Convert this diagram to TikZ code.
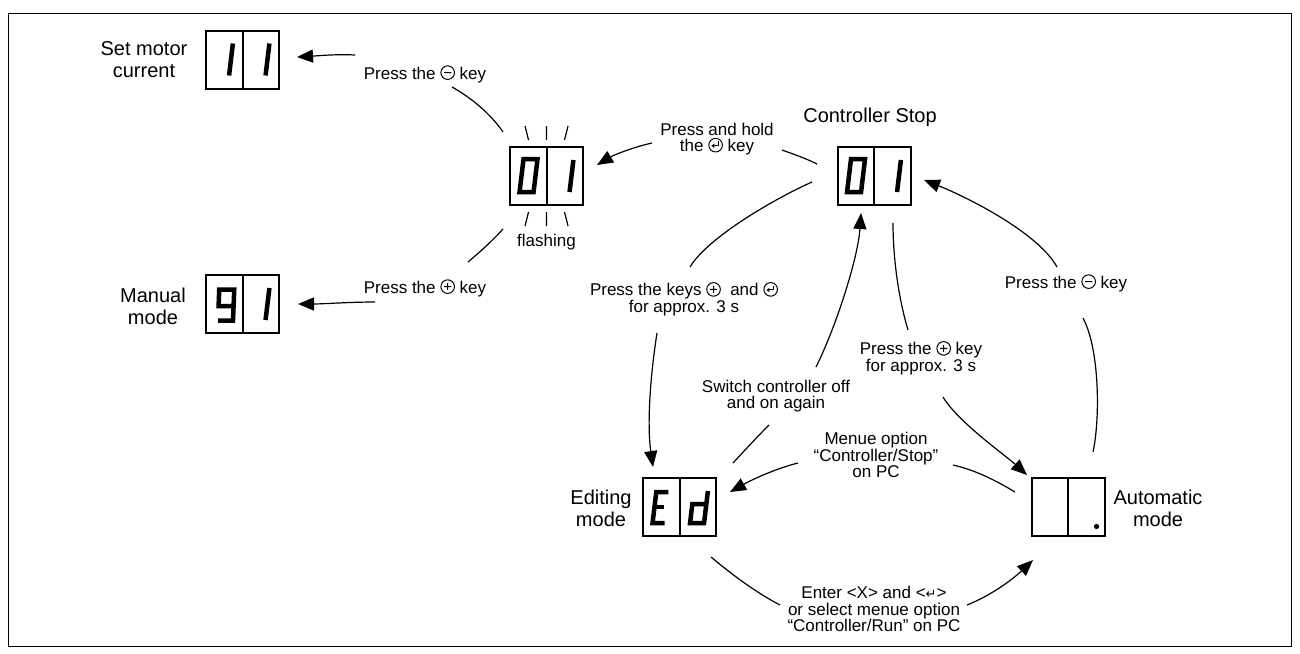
\documentclass[tikz,border=0pt]{standalone}
\usepackage{fontspec}
\setmainfont{Liberation Sans}
\newfontfamily\djv{DejaVu Sans}
\usetikzlibrary{arrows.meta}
\newsavebox\kpbox
\newsavebox\kmbox
\newsavebox\kebox
\newcommand\kp{\usebox\kpbox}
\newcommand\km{\usebox\kmbox}
\newcommand\ke{\usebox\kebox}
\newcommand\kcirc{\pgfsetlinewidth{1pt}\pgfpathcircle{\pgfpointorigin}{6.8pt}}
\newcommand\kline[4]{\pgfpathmoveto{\pgfpoint{#1pt}{#2pt}}\pgfpathlineto{\pgfpoint{#3pt}{#4pt}}}
\newcommand\dcell[3][0.12]{\begin{scope}[shift={(#2)},x=1pt,y=1pt,xslant=#1]#3\end{scope}}
\newcommand\dgone{\draw[seg] (21.5,13)--(21.5,45);}
\newcommand\dgzero{\draw[seg] (8,13)--(22,13)--(22,46)--(8,46)--cycle;}
\newcommand\dgnine{\draw[seg] (26.5,27)--(11.5,27)--(11.5,43.5)--(26.5,43.5)--(26.5,12.5)--(11.5,12.5);}
\newcommand\dgE{\draw[seg] (20,44)--(8,44)--(8,13)--(20,13); \draw[seg] (8,29)--(18,29);}
\newcommand\dgd{\draw[seg] (23,45)--(23,13)--(9,13)--(9,32)--(23,32);}
\begin{document}
\sbox\kpbox{\raisebox{-0.8pt}{\begin{pgfpicture}\kcirc\kline{-3.6}{0}{3.6}{0}\kline{0}{-3.6}{0}{3.6}\pgfusepath{stroke}\end{pgfpicture}}}%
\sbox\kmbox{\raisebox{-0.8pt}{\begin{pgfpicture}\kcirc\kline{-3.6}{0}{3.6}{0}\pgfusepath{stroke}\end{pgfpicture}}}%
\sbox\kebox{\raisebox{-0.8pt}{\begin{pgfpicture}\kcirc\pgfusepath{stroke}\pgfpathmoveto{\pgfpoint{3pt}{3.8pt}}\pgfpathlineto{\pgfpoint{3pt}{-0.6pt}}\pgfpathlineto{\pgfpoint{-1.5pt}{-0.6pt}}\pgfusepath{stroke}\pgfpathmoveto{\pgfpoint{-4.2pt}{-0.6pt}}\pgfpathlineto{\pgfpoint{-1.2pt}{1.7pt}}\pgfpathlineto{\pgfpoint{-1.2pt}{-2.9pt}}\pgfpathclose\pgfusepath{fill}\end{pgfpicture}}}%
\begin{tikzpicture}[x=1pt,y=-1pt,
  disp/.style={draw, line width=2pt, minimum width=73pt, minimum height=58pt, inner sep=0pt, outer sep=0pt},
  seg/.style={line width=4.5pt, line join=miter},
  conn/.style={line width=1.2pt},
  arr/.style={conn, -{Triangle[length=16pt,width=13pt]}},
  tick/.style={line width=1.2pt},
  big/.style={font=\fontsize{20}{22}\selectfont, align=center, inner sep=0pt},
  small/.style={font=\fontsize{17}{16.5}\selectfont, align=center, inner sep=0pt}]
\useasboundingbox (0,0) rectangle (1300,653);
\fill[white] (0,0) rectangle (1300,653);
\draw[line width=1pt] (8.5,13.5) rectangle (1291.5,646.5);

% displays
\node[disp] (motor) at (242.5,59.5) {};
\node[disp] (flash) at (546.5,176) {};
\node[disp] (manual) at (242.5,304) {};
\node[disp] (stop) at (874,176) {};
\node[disp] (edit) at (679.5,507) {};
\node[disp] (auto) at (1068,506.5) {};
\foreach \d in {motor,flash,manual,stop,edit,auto}{\draw[line width=2pt] (\d.north) -- (\d.south);}

\dcell{motor.south west}{\dgone}
\dcell{motor.south}{\dgone}
\dcell{flash.south west}{\dgzero}
\dcell{flash.south}{\dgone}
\dcell[0.04]{manual.south west}{\dgnine}
\dcell{manual.south}{\dgone}
\dcell{stop.south west}{\dgzero}
\dcell{stop.south}{\dgone}
\dcell{edit.south west}{\dgE}
\dcell{edit.south}{\dgd}
\fill ([shift={(-8,-9)}]auto.south east) circle (2.6);

% flashing ticks
\draw[tick] (525,126)--(528.5,140) (546.5,126)--(546.5,140) (568,126)--(564.5,140);
\draw[tick] (528.5,212)--(525,226) (546.5,212)--(546.5,226) (564.5,212)--(568,226);

% state labels
\node[big] (tmotor) at (144,60) {Set motor\\current};
\node[big] (tmanual) at (153,306) {Manual\\mode};
\node[big] (tstop) at (870,117) {Controller Stop};
\node[big] (tedit) at (601,508) {Editing\\mode};
\node[big] (tauto) at (1158,508) {Automatic\\mode};
\node[small] (tflash) at (546.5,242) {flashing};

% transition labels
\node[small] (L1) at (425,74) {Press the \km\ key};
\node[small] (L2) at (717,139) {Press and hold\\the \ke\ key};
\node[small] (L3) at (425,288) {Press the \kp\ key};
\node[small] (L4) at (684,299) {Press the keys \kp\ \ and \ke\\for approx. 3 s};
\node[small] (L5) at (921,358) {Press the \kp\ key\\for approx. 3 s};
\node[small] (L6) at (776,396) {Switch controller off\\and on again};
\node[small] (L7) at (876,455) {Menue option\\“Controller/Stop”\\on PC};
\node[small] (L8) at (874,609) {Enter <X> and <{\djv\fontsize{13}{13}\selectfont ↵}>\\or select menue option\\“Controller/Run” on PC};
\node[small] (L9) at (1066,283) {Press the \km\ key};

% connector end points
\coordinate (A1s) at (503,132); \coordinate (A1e) at (452,87);
\coordinate (A2s) at (355,55);  \coordinate (A2e) at (297,57);
\coordinate (B1s) at (817,164); \coordinate (B1e) at (782,150);
\coordinate (B2s) at (652,143); \coordinate (B2e) at (597,165);
\coordinate (C1s) at (503,229); \coordinate (C1e) at (468,262);
\coordinate (C2s) at (375,302); \coordinate (C2e) at (298,304);
\coordinate (D1s) at (812,182); \coordinate (D1e) at (690,267);
\coordinate (D2s) at (657,333); \coordinate (D2e) at (653,467);
\coordinate (E1s) at (733,463); \coordinate (E1e) at (769,425);
\coordinate (E2s) at (816,367); \coordinate (E2e) at (861,213);
\coordinate (F1s) at (893,223); \coordinate (F1e) at (908,330);
\coordinate (F2s) at (943,397); \coordinate (F2e) at (1027,475);
\coordinate (G1s) at (1093,452); \coordinate (G1e) at (1083,318);
\coordinate (G2s) at (1057,267); \coordinate (G2e) at (924,180);
\coordinate (H1s) at (1015,492); \coordinate (H1e) at (953,465);
\coordinate (H2s) at (798,463); \coordinate (H2e) at (730,492);
\coordinate (I1s) at (711,557); \coordinate (I1e) at (780,605);
\coordinate (I2s) at (967,605); \coordinate (I2e) at (1033,560);

% connectors
\draw[conn] (A1s) .. controls (490,113) and (470,97) .. (A1e);
\draw[arr]  (A2s) .. controls (335,54) and (315,56) .. (A2e);
\draw[conn] (B1s) .. controls (805,158) and (793,154) .. (B1e);
\draw[arr]  (B2s) .. controls (630,148) and (612,156) .. (B2e);
\draw[conn] (C1s) .. controls (492,241) and (480,252) .. (C1e);
\draw[arr]  (C2s) .. controls (350,302) and (322,304) .. (C2e);
\draw[conn] (D1s) .. controls (776,198) and (708,237) .. (D1e);
\draw[arr]  (D2s) .. controls (650,378) and (647,425) .. (D2e);
\draw[conn] (E1s) .. controls (745,450) and (757,437) .. (E1e);
\draw[arr]  (E2s) .. controls (836,327) and (858,258) .. (E2e);
\draw[conn] (F1s) .. controls (893,260) and (899,300) .. (F1e);
\draw[arr]  (F2s) .. controls (958,422) and (1005,455) .. (F2e);
\draw[conn] (G1s) .. controls (1100,420) and (1100,350) .. (G1e);
\draw[arr]  (G2s) .. controls (1037,231) and (962,195) .. (G2e);
\draw[conn] (H1s) .. controls (995,480) and (975,470) .. (H1e);
\draw[arr]  (H2s) .. controls (778,468) and (755,478) .. (H2e);
\draw[conn] (I1s) .. controls (730,573) and (755,592) .. (I1e);
\draw[arr]  (I2s) .. controls (990,596) and (1012,580) .. (I2e);
\end{tikzpicture}
\end{document}
